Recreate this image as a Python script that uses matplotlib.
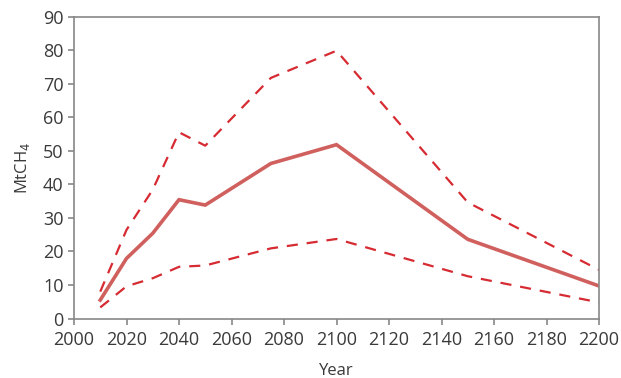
import matplotlib
matplotlib.use('Agg')
import matplotlib.pyplot as plt

plt.rcParams['font.family'] = ['Open Sans', 'DejaVu Sans']

years = [2010, 2020, 2030, 2040, 2050, 2075, 2100, 2150, 2200]
central = [5.5, 17.9, 25.4, 35.4, 33.8, 46.2, 51.8, 23.6, 9.7]
upper = [8.0, 26.4, 38.4, 55.5, 51.5, 71.7, 79.8, 34.6, 14.5]
lower = [3.3, 9.6, 12.0, 15.4, 15.8, 20.9, 23.7, 12.6, 4.8]

grey = '#888888'
text_col = '#3a3a3a'

fig = plt.figure(figsize=(6.21, 3.78), dpi=100)
ax = fig.add_axes([74 / 621, 1 - 318.5 / 378, (599 - 74) / 621, (318.5 - 16.5) / 378])

ax.plot(years, central, color='#d0605e', lw=2.6, solid_joinstyle='miter')
ax.plot(years, upper, color='#d62b32', lw=1.6, dashes=(5, 4))
ax.plot(years, lower, color='#d62b32', lw=1.6, dashes=(5, 4))

ax.set_xlim(2000, 2200)
ax.set_ylim(0, 90)
ax.set_xticks(range(2000, 2201, 20))
ax.set_yticks(range(0, 91, 10))

for s in ax.spines.values():
    s.set_color(grey)
    s.set_linewidth(1.2)
ax.tick_params(colors=grey, labelcolor=text_col, labelsize=13, length=4, width=1.2)
ax.tick_params(axis='x', pad=5)

ax.set_xlabel('Year', color=text_col, fontsize=12, labelpad=10)
ax.set_ylabel('MtCH$_4$', color=text_col, fontsize=12, labelpad=8)

fig.savefig('out.png', dpi=100)
